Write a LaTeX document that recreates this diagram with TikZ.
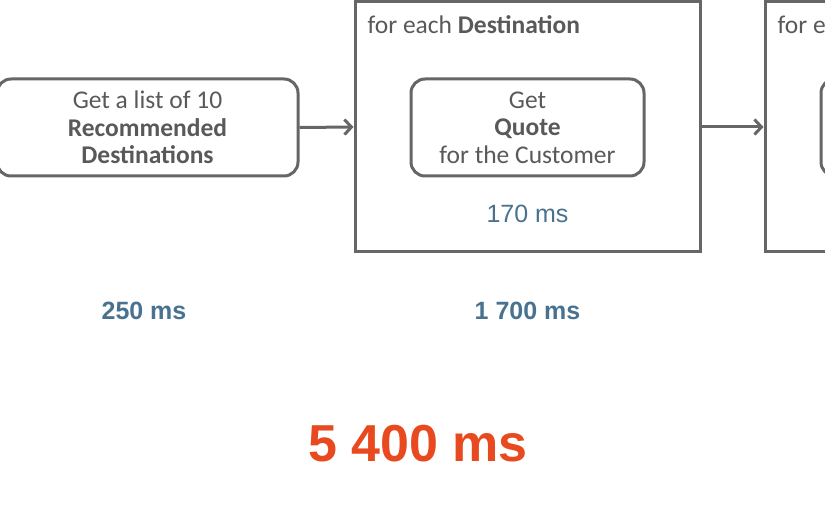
\documentclass[tikz,border=0pt]{standalone}
\usepackage{fontspec}
\setmainfont{Carlito}
\newfontfamily\timefont{Liberation Sans}
\usepackage{xcolor}
\usetikzlibrary{arrows.meta,calc,positioning}

\definecolor{linegray}{HTML}{666666}
\definecolor{textgray}{HTML}{595959}
\definecolor{timeblue}{HTML}{48728F}
\definecolor{totalred}{HTML}{E8491F}

\begin{document}
\begin{tikzpicture}[x=1pt,y=-1pt]

\tikzset{stepbox/.style={draw=linegray, line width=3pt, rounded corners=14pt,
    minimum width=233pt, minimum height=97pt, align=center, text=textgray,
    font=\fontsize{25.5}{27.5}\selectfont, text depth=0pt},
  loopbox/.style={draw=linegray, line width=3pt, minimum width=345pt, minimum height=250pt},
  looplabel/.style={anchor=base west, inner sep=0pt, text=textgray, font=\fontsize{25.5}{27.5}\selectfont},
  timelabel/.style={anchor=base, inner sep=0pt, text=timeblue, font=\timefont\fontsize{25}{30}\selectfont},
  flow/.style={draw=linegray, line width=3pt, -{Straight Barb[length=7pt,width=15pt]}}}

\useasboundingbox (0,0) rectangle (825,510);
\clip (0,0) rectangle (825,510);

%first step
\node[stepbox, minimum width=301pt] (listbox) at (147.5,127.5)
  {Get a list of 10\\\textbf{Recommended}\\\textbf{Destinations}};

%the loop over destinations
\node[loopbox] (destloop) at (527.5,127) {};
\node[looplabel] (destlabel) at ($(destloop.north west)+(14,33)$) {for each \textbf{Destination}};
\node[stepbox] (quotebox) at (527.5,127.5) {Get\\\textbf{Quote}\\for the Customer};
\node[timelabel] (quotetime) at (527.5,223) {170 ms};

%the next loop, cut by the edge
\node[loopbox] (nextloop) at (937.5,127) {};
\node[looplabel] (nextlabel) at ($(nextloop.north west)+(14,33)$) {for each};
\node[stepbox] (nextbox) at (937.5,127.5) {};

\draw[flow] (listbox.east) -- (destloop.west);
\draw[flow] (destloop.east) -- (nextloop.west);

%times
\node[timelabel, font=\timefont\bfseries\fontsize{25}{30}\selectfont] (listtime) at (144,320) {250 ms};
\node[timelabel, font=\timefont\bfseries\fontsize{25}{30}\selectfont] (looptime) at (527.5,320) {1 700 ms};
\node[timelabel, text=totalred, font=\timefont\bfseries\fontsize{52}{60}\selectfont] (totaltime) at (418,462) {5 400 ms};

\end{tikzpicture}
\end{document}
